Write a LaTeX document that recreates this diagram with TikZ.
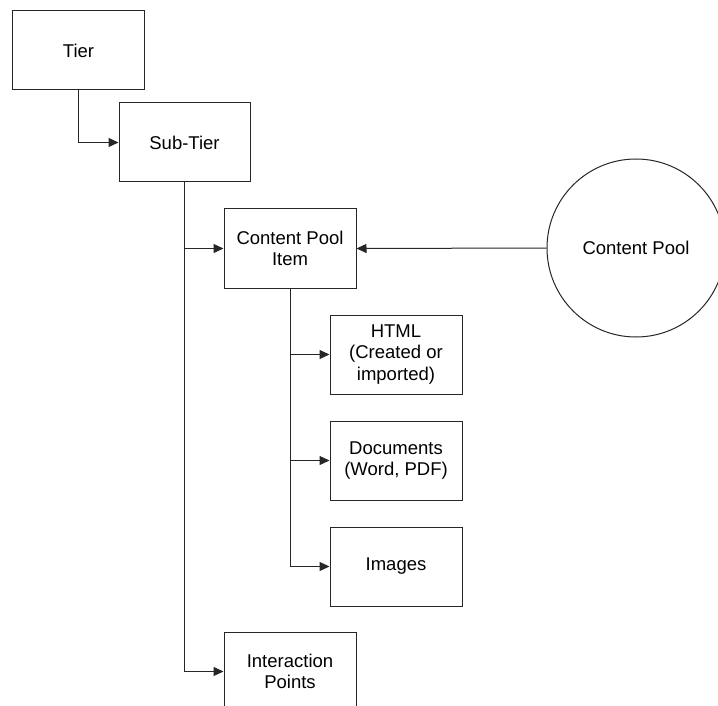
\documentclass[tikz,border=0pt]{standalone}
\usepackage{fontspec}
\setmainfont{Liberation Sans}
\usetikzlibrary{arrows.meta}
\begin{document}
\begin{tikzpicture}[x=1pt,y=-1pt,
  box/.style={draw=black!85,line width=1pt,minimum width=132pt,minimum height=79pt,inner sep=0pt,align=center,
    font=\fontsize{18.5}{21.5}\selectfont},
  conn/.style={draw=black!85,line width=1pt,-{Triangle[length=10pt,width=9pt]}}]
\useasboundingbox (0,0) rectangle (718,706);
\clip (0,0) rectangle (718,706);
\node[box] (tier) at (78.5,50.5) {Tier};
\node[box,minimum width=131pt] (sub) at (184.5,142.5) {Sub-Tier};
\node[box] (cpi) at (290,248.5) {Content Pool\\Item};
\node[box] (html) at (396,354.5) {HTML\\(Created or\\imported)};
\node[box] (docs) at (396,460.5) {Documents\\(Word, PDF)};
\node[box] (img) at (396,566.5) {Images};
\node[box] (ip) at (290,671.5) {Interaction\\Points};
\node[draw=black!85,line width=1pt,circle,minimum size=178pt,inner sep=0pt,
  font=\fontsize{18.5}{21.5}\selectfont] (pool) at (636,248) {Content Pool};
\draw[conn] (tier.south) |- (sub.west);
\draw[conn] (sub.south) |- (cpi.west);
\draw[conn] (sub.south) |- (ip.west);
\draw[conn] (cpi.south) |- (html.west);
\draw[conn] (cpi.south) |- (docs.west);
\draw[conn] (cpi.south) |- (img.west);
\draw[conn] (pool.west) -- (cpi.east);
\end{tikzpicture}
\end{document}
